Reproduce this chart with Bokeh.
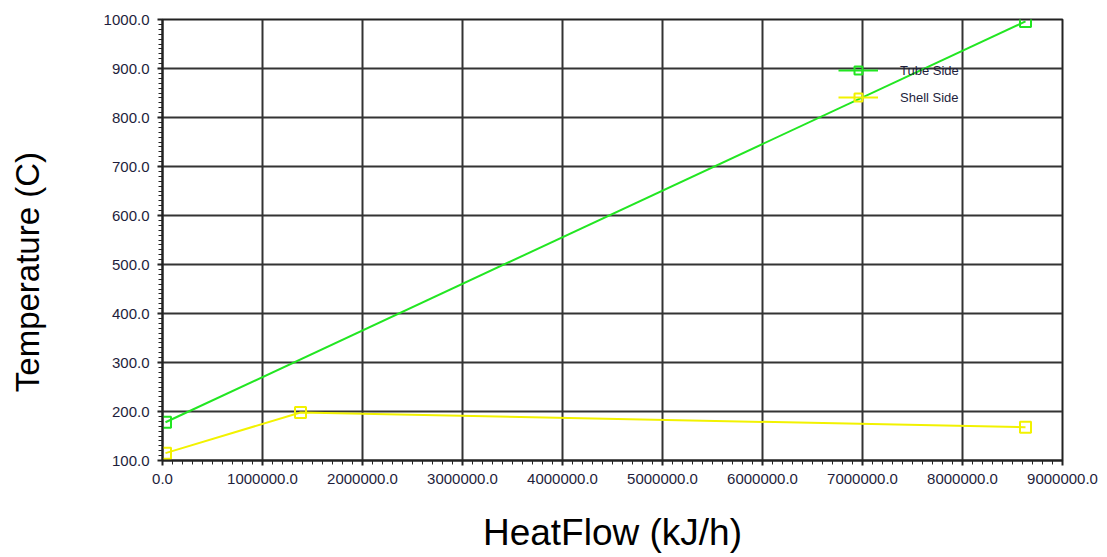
from bokeh.plotting import figure
from bokeh.models import Range1d, FixedTicker, PrintfTickFormatter, Legend, LegendItem
from bokeh.embed import file_html
from bokeh.resources import INLINE

# Data
tube_x = [30000, 8630000]
tube_y = [178.0, 996.0]
shell_x = [30000, 1380000, 8630000]
shell_y = [115.0, 198.0, 168.0]

x_ticks = [i * 1000000 for i in range(10)]
y_ticks = [100 + i * 100 for i in range(10)]
x_minor = [i * 100000 for i in range(91)]
y_minor = [100 + i * 10 for i in range(91)]

FONT = "Liberation Sans"

p = figure(width=1107, height=557, output_backend="svg", toolbar_location=None,
           x_range=Range1d(0, 9000000), y_range=Range1d(100, 1000),
           min_border_left=162, min_border_right=45, min_border_top=19, min_border_bottom=97)

p.background_fill_color = "white"
p.border_fill_color = "white"
p.outline_line_color = "#222222"
p.outline_line_width = 2

for ax, ticks, minor in ((p.xaxis[0], x_ticks, x_minor), (p.yaxis[0], y_ticks, y_minor)):
    ax.ticker = FixedTicker(ticks=ticks, minor_ticks=minor)
    ax.formatter = PrintfTickFormatter(format="%.1f")
    ax.major_label_text_font = FONT
    ax.major_label_text_font_size = "15px"
    ax.major_label_text_color = "#1e1e3c"
    ax.axis_line_color = "#222222"
    ax.axis_line_width = 2
    ax.major_tick_line_color = "#222222"
    ax.major_tick_line_width = 2
    ax.major_tick_out = 5
    ax.major_tick_in = 0
    ax.minor_tick_line_color = "#222222"
    ax.minor_tick_line_width = 1
    ax.minor_tick_out = 4
    ax.minor_tick_in = 0
    ax.axis_label_text_font = FONT
    ax.axis_label_text_font_style = "normal"
    ax.axis_label_text_color = "black"

p.xaxis.axis_label = "HeatFlow (kJ/h)"
p.xaxis.axis_label_text_font_size = "37px"
p.xaxis.axis_label_standoff = 25
p.xaxis.major_label_standoff = 8

# trailing no-break spaces shift the rotated label down to where the reference has it
p.yaxis.axis_label = "Temperature (C)" + "\u00a0" * 7
p.yaxis.axis_label_text_font_size = "33px"
p.yaxis.axis_label_standoff = 55
p.yaxis.major_label_standoff = 8

p.xgrid[0].ticker = FixedTicker(ticks=x_ticks)
p.ygrid[0].ticker = FixedTicker(ticks=y_ticks)
for g in (p.xgrid[0], p.ygrid[0]):
    g.grid_line_color = "#333333"
    g.grid_line_width = 2

green = "#22e622"
yellow = "#f2f200"

tl = p.line(tube_x, tube_y, line_color=green, line_width=2)
tm = p.scatter(tube_x, tube_y, marker="square", size=11, fill_color=None,
               line_color=green, line_width=2)
sl = p.line(shell_x, shell_y, line_color=yellow, line_width=2)
sm = p.scatter(shell_x, shell_y, marker="square", size=11, fill_color=None,
               line_color=yellow, line_width=2)

legend = Legend(items=[LegendItem(label="Tube Side", renderers=[tl, tm]),
                       LegendItem(label="Shell Side", renderers=[sl, sm])],
                location=(676, 353), orientation="vertical")
legend.border_line_color = None
legend.background_fill_alpha = 0
legend.padding = 0
legend.margin = 0
legend.spacing = 7
legend.glyph_width = 40
legend.glyph_height = 20
legend.label_standoff = 22
legend.label_text_font = FONT
legend.label_text_font_size = "13px"
legend.label_text_color = "#1e1e3c"
p.add_layout(legend, "center")

open("out.html", "w").write(file_html(p, INLINE))
